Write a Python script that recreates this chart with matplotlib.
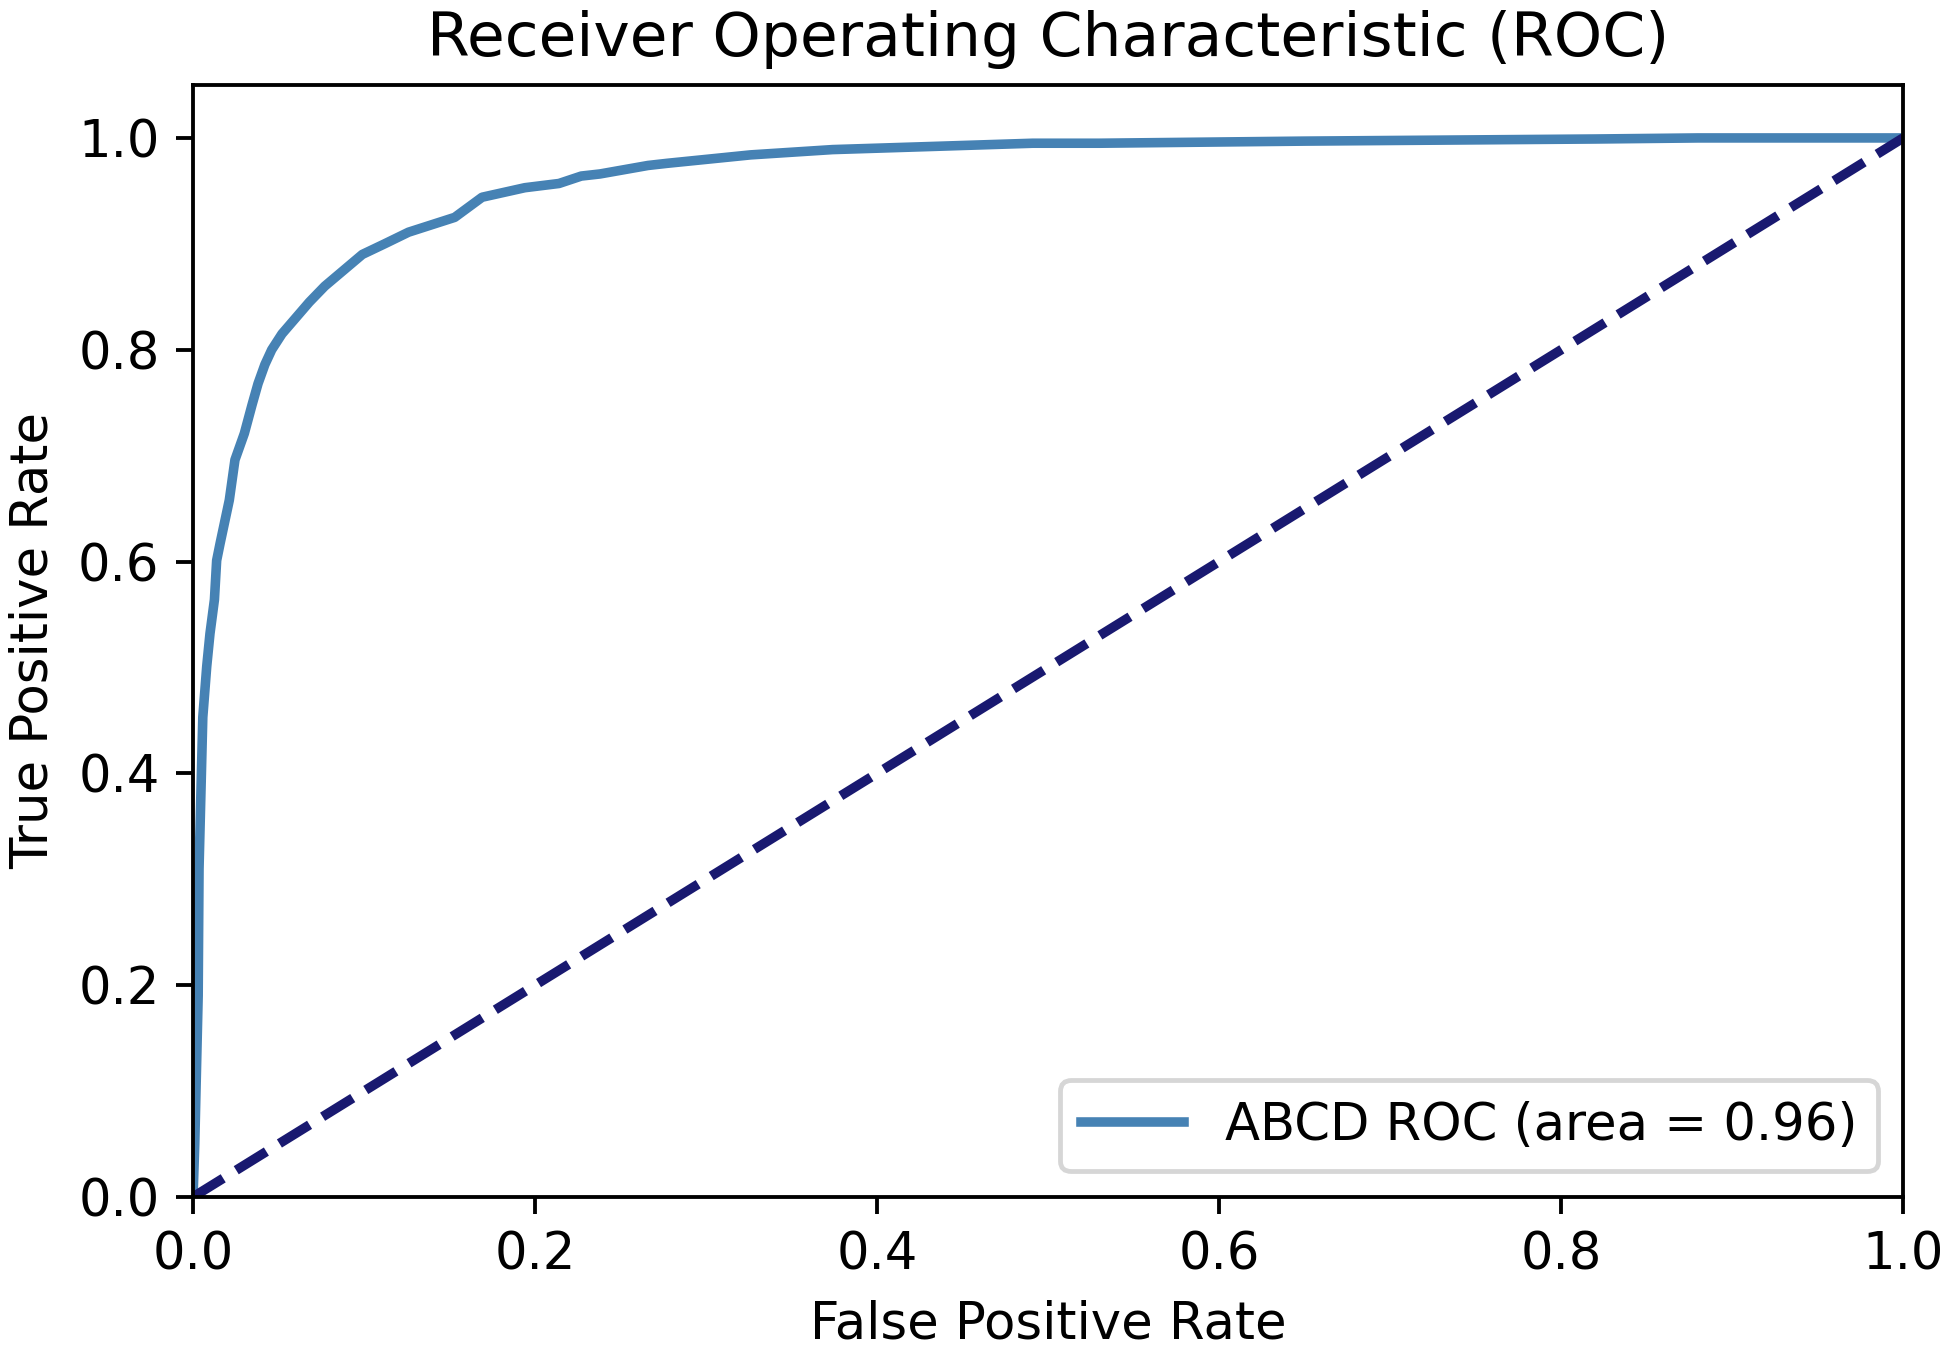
import matplotlib
matplotlib.use("Agg")
import matplotlib.pyplot as plt

# ROC curve
fpr = [0.0, 0.001, 0.002, 0.003, 0.0035, 0.0045, 0.0057, 0.008, 0.0099, 0.0125,
       0.0138, 0.0158, 0.0212, 0.0245, 0.030, 0.0345, 0.038, 0.042, 0.046, 0.052,
       0.060, 0.068, 0.077, 0.088, 0.099, 0.112, 0.126, 0.153, 0.169, 0.194,
       0.214, 0.227, 0.238, 0.266, 0.277, 0.326, 0.374, 0.433, 0.491, 0.530,
       0.65, 0.82, 0.88, 1.0]
tpr = [0.0, 0.05, 0.12, 0.19, 0.31, 0.375, 0.453, 0.501, 0.532, 0.564,
       0.601, 0.617, 0.658, 0.696, 0.721, 0.748, 0.768, 0.786, 0.800, 0.815,
       0.830, 0.845, 0.860, 0.875, 0.890, 0.900, 0.911, 0.925, 0.944, 0.953,
       0.957, 0.964, 0.966, 0.974, 0.976, 0.984, 0.989, 0.992, 0.995, 0.995,
       0.997, 0.999, 1.0, 1.0]
chance_x = [0.0, 1.0]
chance_y = [0.0, 1.0]
roc_auc = 0.96
label = 'ABCD ROC (area = %0.2f)' % roc_auc

DPI = 345
plt.rcParams['font.size'] = 10.7
fig = plt.figure(figsize=(1950 / DPI, 1349 / DPI), dpi=DPI)
ax = fig.add_axes([0.099, 0.1127, 0.877, 0.8243])

ax.plot(fpr, tpr, color='steelblue', lw=2, label=label)
ax.plot(chance_x, chance_y, color='midnightblue', lw=2, linestyle='--')
ax.set_xlim([0.0, 1.0])
ax.set_ylim([0.0, 1.05])
ax.set_xlabel('False Positive Rate')
ax.set_ylabel('True Positive Rate')
ax.set_title('Receiver Operating Characteristic (ROC)')
ax.legend(loc='lower right')

fig.savefig('out.png', dpi=DPI)
